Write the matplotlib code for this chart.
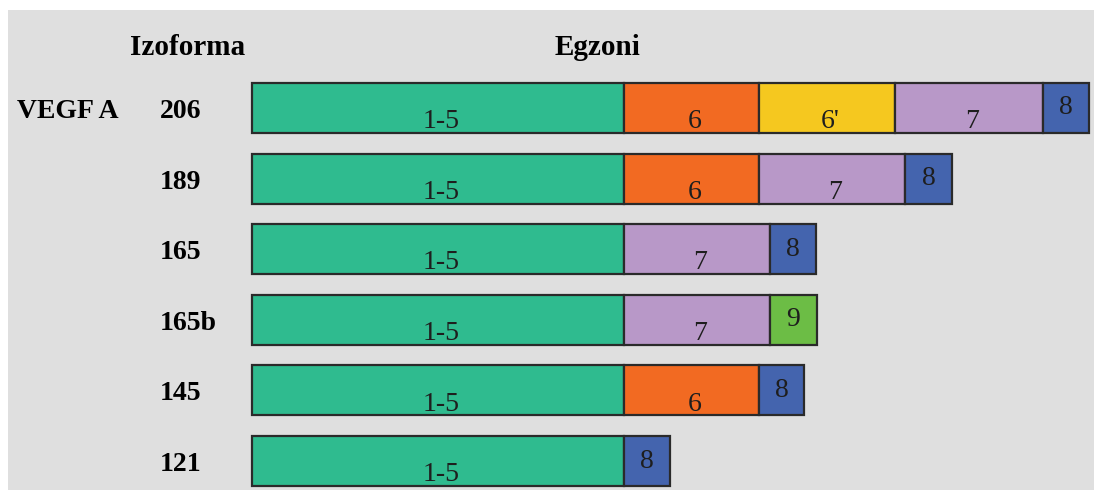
import matplotlib
matplotlib.use("Agg")
import matplotlib.pyplot as plt

# isoforms (top to bottom) and their exons, lengths
isoforms = ["206", "189", "165", "165b", "145", "121"]
exons = [
    ["1-5", "6", "6'", "7", "8"],
    ["1-5", "6", "7", "8"],
    ["1-5", "7", "8"],
    ["1-5", "7", "9"],
    ["1-5", "6", "8"],
    ["1-5", "8"],
]
lengths = [
    [372, 135, 136, 148, 46],
    [372, 135, 146, 47],
    [372, 146, 46],
    [372, 146, 47],
    [372, 135, 45],
    [372, 46],
]

exon_colors = {
    "1-5": "#2fbb8f",
    "6": "#f26a22",
    "6'": "#f5c81f",
    "7": "#b898c8",
    "8": "#4464ae",
    "9": "#6cbd45",
}

bg = "#dfdfdf"
serif = ["Liberation Serif", "DejaVu Serif"]

fig = plt.figure(figsize=(10.94, 4.90), dpi=100)
fig.patch.set_facecolor("white")
ax = fig.add_axes([8 / 1094, 0, 1086 / 1094, 480 / 490])
ax.set_facecolor(bg)
for s in ax.spines.values():
    s.set_visible(False)
ax.set_xticks([])
ax.set_yticks([])
ax.set_xlim(-244, 842)
ax.set_ylim(5 + 29 / 70.6, -98 / 70.6)

bar_h = 0.71
for i, (names, lens) in enumerate(zip(exons, lengths)):
    left = 0
    for name, w in zip(names, lens):
        ax.barh(i, w, left=left, height=bar_h, color=exon_colors[name],
                edgecolor="#2a2a2a", linewidth=1.6)
        cx = left + w / 2 + 3
        # narrow exons get a centred label, wide ones sit low in the bar
        if w < 60:
            ax.text(cx - 3, i, name, ha="center", va="center",
                    family=serif, fontsize=20, color="#1e1e1e")
        else:
            ax.text(cx, i + bar_h / 2 - 0.07, name, ha="center", va="baseline",
                    family=serif, fontsize=20, color="#1e1e1e")
        left += w
    ax.text(-92, i + 0.05, isoforms[i], ha="left", va="center",
            family=serif, fontsize=20, fontweight="bold")

ax.text(-184, 0.05, "VEGF A", ha="center", va="center",
        family=serif, fontsize=20, fontweight="bold")
ax.text(-64, -0.85, "Izoforma", ha="center", va="center",
        family=serif, fontsize=21, fontweight="bold")
ax.text(345, -0.85, "Egzoni", ha="center", va="center",
        family=serif, fontsize=21, fontweight="bold")

fig.savefig("out.png", dpi=100, facecolor=fig.get_facecolor())
